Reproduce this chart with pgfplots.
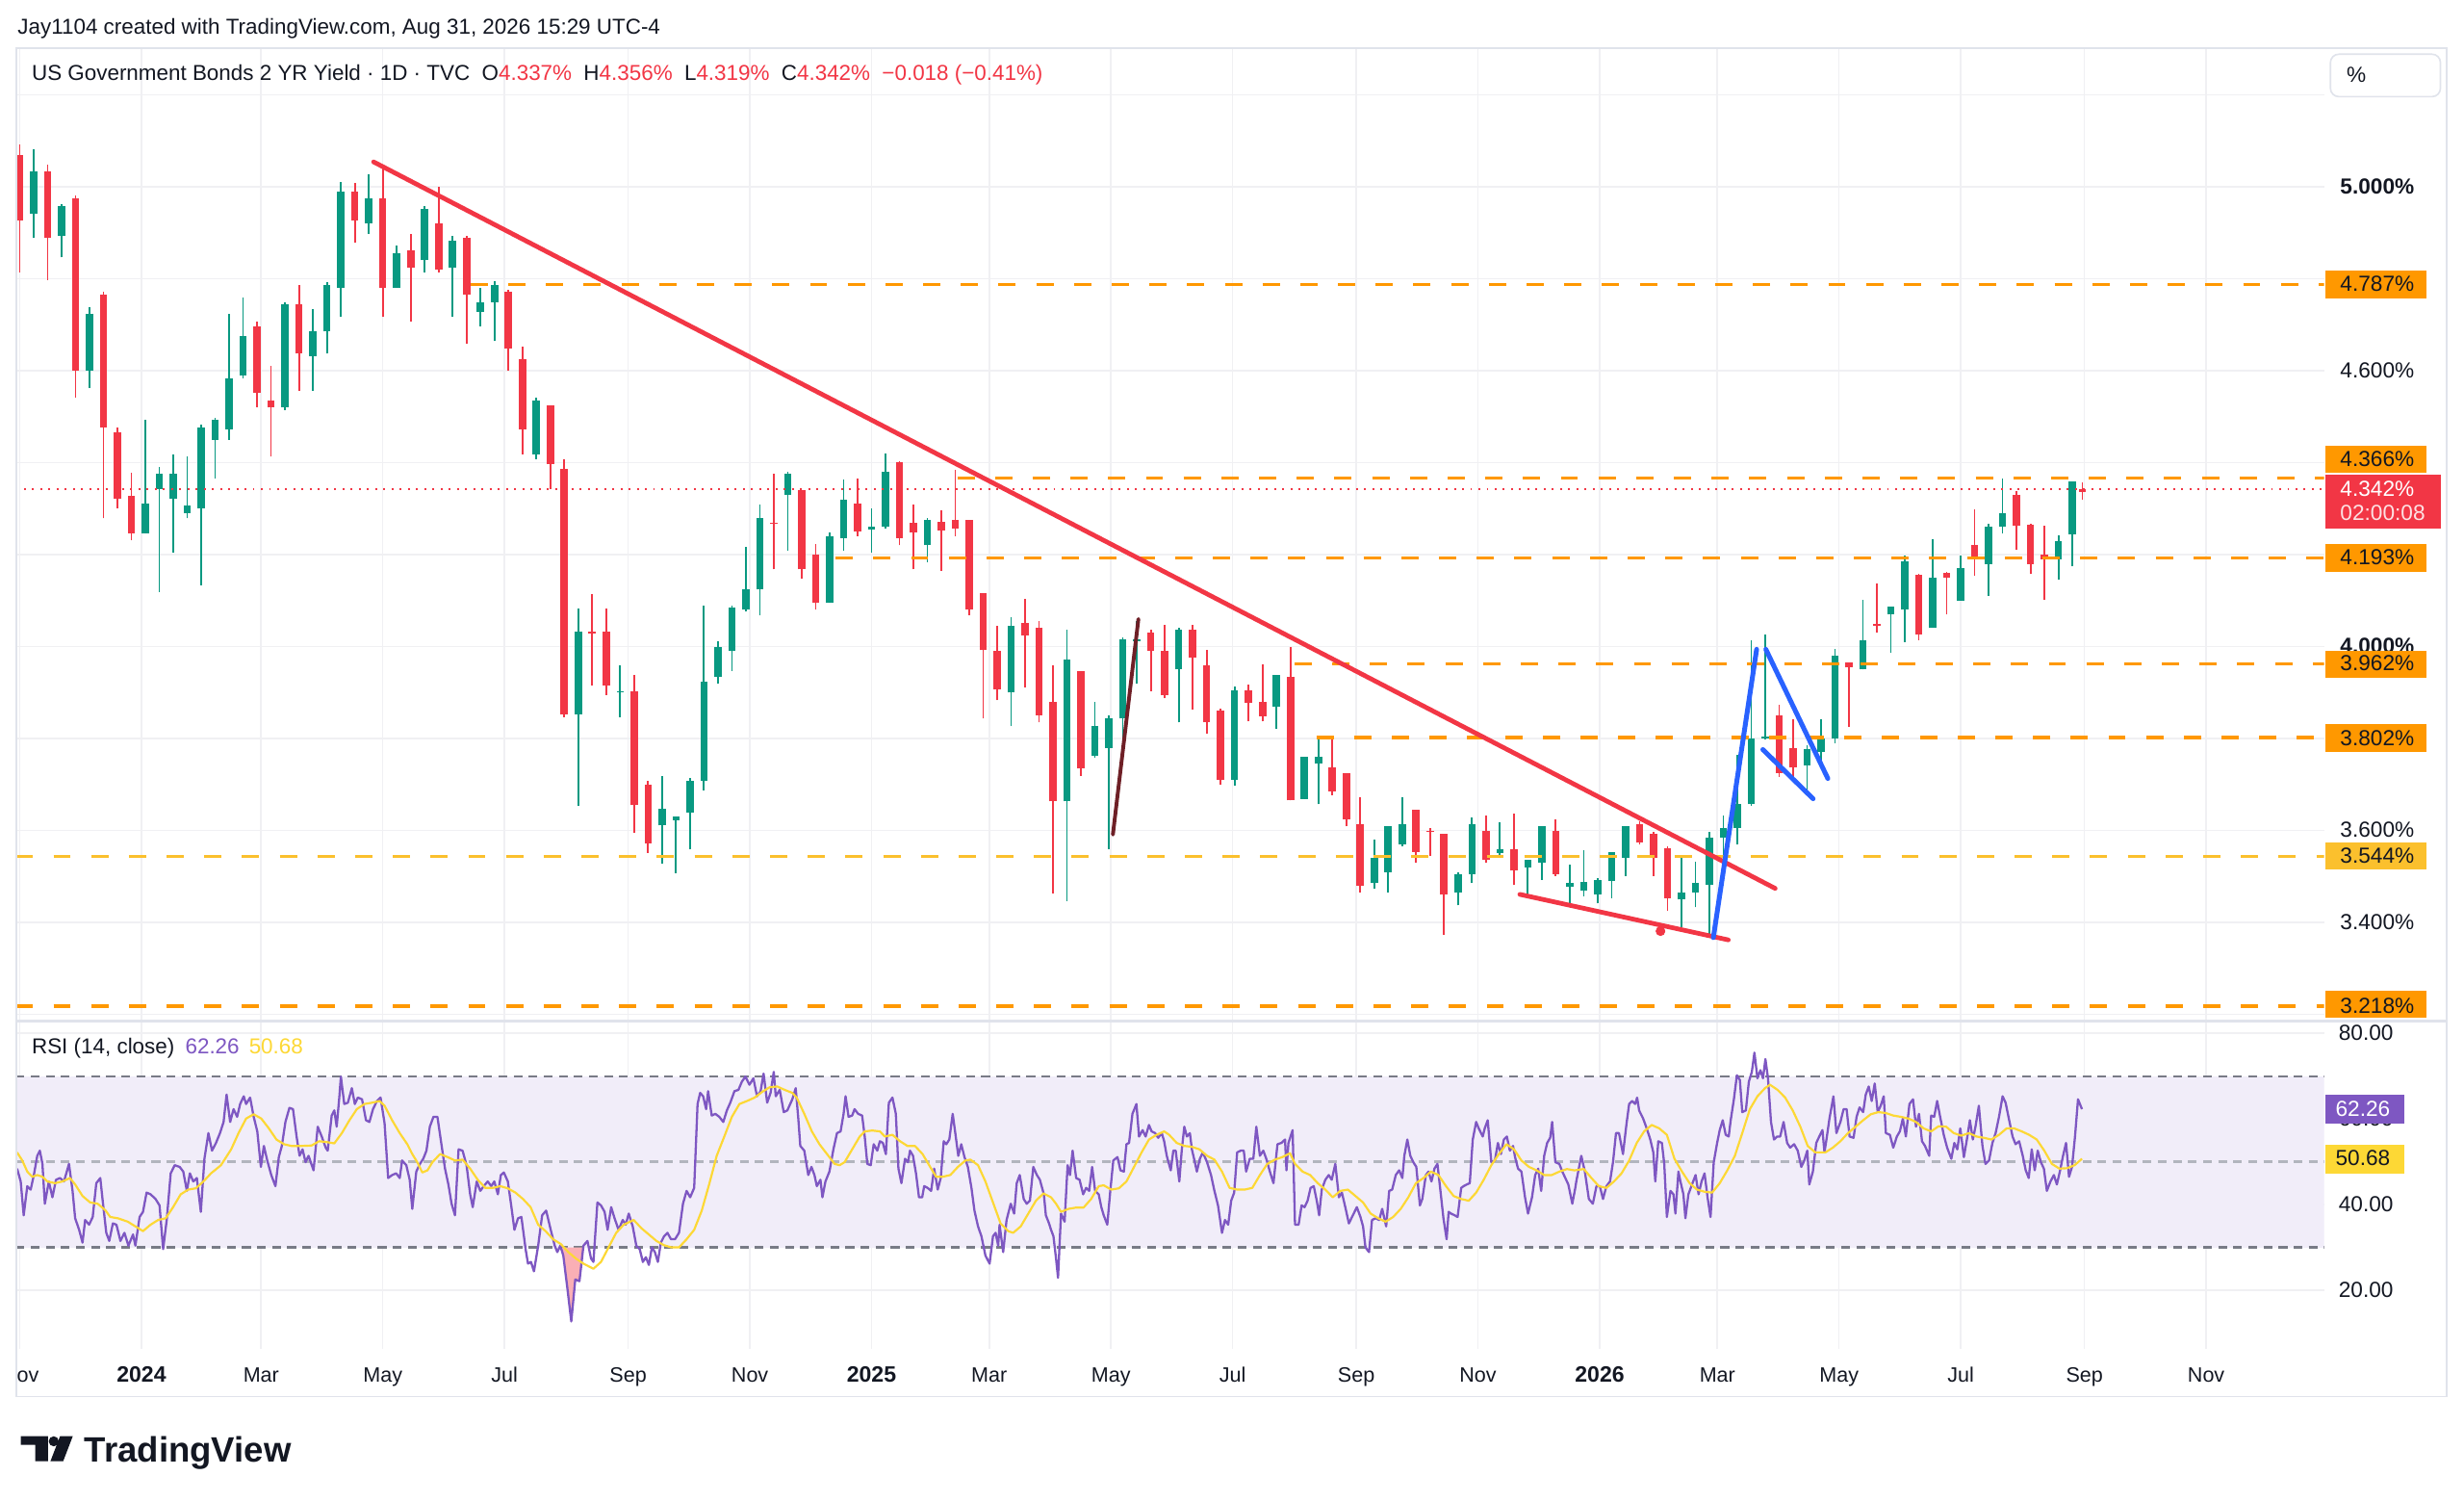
\documentclass[border=0pt]{standalone}
\usepackage{pgfplots}
\pgfplotsset{compat=1.18}
\usepackage{pgfplotstable}
\usepackage{fontspec}
\setmainfont{Liberation Sans}
\definecolor{tvgreen}{HTML}{089981}
\definecolor{tvred}{HTML}{F23645}
\definecolor{tvorange}{HTML}{FF9800}
\definecolor{tvyel}{HTML}{FBC02D}
\definecolor{tvtext}{HTML}{131722}
\definecolor{gridc}{HTML}{F0F0F3}
\definecolor{framec}{HTML}{E0E3EB}
\definecolor{rsipurple}{HTML}{7E57C2}
\definecolor{rsiyellow}{HTML}{FDD835}
\definecolor{rsiband}{HTML}{F1EDF9}
\definecolor{bandline}{HTML}{787B86}
\definecolor{midline}{HTML}{B2B5BE}
\definecolor{tvblue}{HTML}{2962FF}
\definecolor{darkline}{HTML}{6E1F26}
\newcommand\fsA{\fontsize{10.3pt}{12pt}\selectfont}
\newcommand\fsL{\fontsize{10.4pt}{12pt}\selectfont}
\newcommand\fsT{\fontsize{9.9pt}{12pt}\selectfont}
\newcommand\fsY{\fontsize{10.6pt}{12pt}\selectfont\bfseries}

\pgfplotsset{
  tvpane/.style={
    scale only axis, width=1101.75pt,
    xmin=-63.0, xmax=1094.2,
    axis line style={draw=none}, tick style={draw=none}, major tick length=0pt,
    xticklabel={\relax}, yticklabel={\relax},
    xtick={-61,0,60,121,182,244,305,366,425,486,547,609,670,731,790,851,912,974,1035},
    grid=major, major grid style={color=gridc, line width=0.75pt},
  },
  wick/.style={only marks, mark=*, mark size=0pt, mark options={draw=none, fill=none}, forget plot,
    /pgfplots/error bars/y dir=plus, /pgfplots/error bars/y explicit,
    /pgfplots/error bars/error mark=none,
    /pgfplots/error bars/error bar style={color=#1, line width=0.8pt}},
  body/.style={only marks, mark=*, mark size=0pt, mark options={draw=none, fill=none}, forget plot,
    /pgfplots/error bars/y dir=plus, /pgfplots/error bars/y explicit,
    /pgfplots/error bars/error mark=none,
    /pgfplots/error bars/error bar style={color=#1, line width=3.5pt}},
  lvl/.style={color=#1, line width=1.5pt, dash pattern=on 8.25pt off 9.75pt, forget plot},
}

% weekly candles: day (since 2024-01-01), open, high, low, close
\pgfplotstableread{
d O H L C
-54 4.942 5.081 4.888 5.033
-40 4.894 4.963 4.846 4.958
-26 4.600 4.739 4.562 4.723
2 4.247 4.493 4.247 4.311
9 4.343 4.391 4.119 4.375
16 4.322 4.418 4.204 4.375
23 4.290 4.413 4.279 4.306
30 4.301 4.482 4.133 4.477
37 4.450 4.498 4.365 4.493
44 4.472 4.723 4.450 4.584
51 4.589 4.760 4.584 4.675
72 4.520 4.749 4.514 4.744
86 4.632 4.733 4.557 4.685
93 4.685 4.792 4.637 4.787
100 4.781 5.011 4.717 4.990
114 4.920 5.027 4.897 4.974
128 4.781 4.872 4.781 4.856
142 4.840 4.958 4.813 4.952
156 4.824 4.894 4.717 4.883
170 4.728 4.781 4.696 4.749
177 4.749 4.794 4.664 4.787
198 4.418 4.541 4.407 4.536
219 3.852 4.082 3.654 4.033
240 3.900 3.959 3.847 3.903
261 3.611 3.719 3.527 3.647
268 3.623 3.631 3.507 3.631
275 3.639 3.715 3.559 3.707
282 3.707 4.089 3.687 3.923
289 3.935 4.012 3.919 4.000
296 3.990 4.088 3.947 4.084
303 4.080 4.216 4.076 4.124
310 4.124 4.308 4.068 4.280
324 4.330 4.380 4.208 4.376
345 4.096 4.248 4.096 4.240
352 4.236 4.364 4.208 4.320
366 4.255 4.300 4.204 4.260
373 4.260 4.420 4.256 4.380
394 4.220 4.280 4.184 4.276
436 3.900 4.064 3.827 4.044
464 3.663 4.036 3.447 3.971
478 3.763 3.879 3.759 3.827
485 3.779 3.850 3.559 3.843
492 3.843 4.020 3.771 4.016
499 4.012 4.056 3.919 4.016
520 3.950 4.040 3.835 4.036
548 3.710 3.914 3.697 3.905
569 3.870 3.938 3.821 3.938
583 3.669 3.761 3.669 3.761
590 3.745 3.801 3.657 3.761
618 3.485 3.581 3.473 3.541
625 3.509 3.609 3.465 3.609
632 3.570 3.673 3.565 3.613
660 3.465 3.509 3.437 3.505
667 3.505 3.629 3.485 3.613
681 3.550 3.617 3.541 3.560
695 3.520 3.537 3.457 3.537
702 3.530 3.609 3.493 3.609
716 3.477 3.525 3.437 3.485
723 3.469 3.557 3.457 3.489
730 3.461 3.497 3.441 3.493
737 3.490 3.553 3.453 3.553
744 3.541 3.609 3.501 3.609
772 3.450 3.545 3.389 3.465
779 3.465 3.533 3.433 3.485
786 3.481 3.597 3.369 3.585
793 3.585 3.633 3.493 3.605
800 3.605 3.765 3.569 3.657
807 3.657 4.014 3.653 3.800
814 3.800 4.026 3.797 3.805
835 3.741 3.785 3.677 3.777
842 3.770 3.841 3.741 3.800
849 3.800 3.994 3.790 3.980
863 3.950 4.102 3.950 4.014
877 4.070 4.086 3.986 4.086
884 4.080 4.198 4.010 4.185
898 4.040 4.234 4.040 4.150
912 4.100 4.198 4.100 4.170
926 4.180 4.266 4.110 4.260
933 4.260 4.366 4.246 4.290
961 4.190 4.242 4.146 4.230
968 4.245 4.360 4.174 4.360
}\greentab

\pgfplotstableread{
d O H L C
-61 5.070 5.091 4.813 4.926
-47 5.033 5.049 4.797 4.888
-33 4.974 4.982 4.541 4.600
-19 4.765 4.771 4.279 4.477
-12 4.466 4.477 4.301 4.322
-5 4.327 4.379 4.231 4.247
58 4.696 4.707 4.520 4.552
65 4.536 4.610 4.413 4.520
79 4.744 4.787 4.557 4.637
107 4.990 5.009 4.878 4.926
121 4.974 5.049 4.717 4.781
135 4.862 4.897 4.707 4.824
149 4.920 5.000 4.813 4.819
163 4.888 4.894 4.659 4.765
184 4.771 4.776 4.600 4.648
191 4.626 4.653 4.418 4.472
205 4.525 4.525 4.343 4.397
212 4.386 4.407 3.847 3.852
226 4.033 4.114 3.916 4.028
233 4.033 4.082 3.895 3.916
247 3.903 3.939 3.595 3.655
254 3.699 3.707 3.551 3.571
317 4.270 4.376 4.168 4.268
331 4.340 4.340 4.148 4.168
338 4.200 4.224 4.080 4.096
359 4.312 4.366 4.240 4.250
380 4.400 4.404 4.220 4.236
387 4.270 4.308 4.168 4.248
401 4.272 4.296 4.164 4.252
408 4.276 4.384 4.240 4.256
415 4.276 4.276 4.068 4.080
422 4.116 4.116 3.843 3.992
429 3.990 4.044 3.883 3.907
443 4.052 4.104 3.911 4.024
450 4.040 4.056 3.835 3.851
457 3.880 3.959 3.463 3.663
471 3.947 3.947 3.719 3.735
506 4.030 4.036 3.903 3.990
513 3.990 4.048 3.887 3.895
527 4.036 4.048 3.863 3.975
534 3.960 3.992 3.811 3.835
541 3.860 3.865 3.700 3.710
555 3.905 3.918 3.837 3.877
562 3.880 3.962 3.837 3.849
576 3.934 3.998 3.665 3.665
597 3.737 3.805 3.677 3.685
604 3.725 3.725 3.609 3.625
611 3.613 3.673 3.465 3.480
639 3.645 3.645 3.529 3.553
646 3.600 3.605 3.545 3.597
653 3.593 3.593 3.373 3.460
674 3.600 3.633 3.529 3.537
688 3.560 3.637 3.481 3.513
709 3.600 3.625 3.501 3.505
751 3.613 3.621 3.569 3.573
758 3.593 3.597 3.501 3.541
765 3.561 3.565 3.425 3.453
821 3.850 3.873 3.717 3.725
828 3.780 3.841 3.713 3.737
856 3.965 3.966 3.825 3.954
870 4.050 4.138 4.030 4.046
891 4.155 4.158 4.014 4.026
905 4.160 4.162 4.070 4.150
919 4.220 4.298 4.154 4.190
940 4.330 4.338 4.210 4.262
947 4.265 4.266 4.158 4.180
954 4.200 4.262 4.102 4.190
973 4.337 4.356 4.319 4.342
}\redtab

\begin{document}
\begin{tikzpicture}
\useasboundingbox (0,0) rectangle (1176pt,716.25pt);
\fill[white] (0,0) rectangle (1176pt,716.25pt);

% ---------------- price pane ----------------
\begin{axis}[tvpane, at={(7.5pt,229.5pt)}, anchor=south west,
  height=464.25pt, ymin=3.1874, ymax=5.3036,
  ytick={3.2,3.4,3.6,3.8,4.0,4.2,4.4,4.6,4.8,5.0,5.2}]
% candles
\addplot[wick=tvgreen] table[x=d, y=L, y error plus expr=\thisrow{H}-\thisrow{L}] {\greentab};
\addplot[body=tvgreen] table[x=d, y=O, y error plus expr=\thisrow{C}-\thisrow{O}] {\greentab};
\addplot[wick=tvred] table[x=d, y=L, y error plus expr=\thisrow{H}-\thisrow{L}] {\redtab};
\addplot[body=tvred] table[x=d, y=C, y error plus expr=\thisrow{O}-\thisrow{C}] {\redtab};
% horizontal levels
\addplot[lvl=tvorange] coordinates {(165,4.787) (1094.2,4.787)};
\addplot[lvl=tvorange] coordinates {(409,4.366) (1094.2,4.366)};
\addplot[lvl=tvorange] coordinates {(348,4.193) (1094.2,4.193)};
\addplot[lvl=tvorange] coordinates {(578,3.962) (1094.2,3.962)};
\addplot[lvl=tvorange] coordinates {(589,3.802) (1094.2,3.802)};
\addplot[lvl=tvyel] coordinates {(-63,3.544) (1094.2,3.544)};
\addplot[lvl=tvorange] coordinates {(-63,3.218) (1094.2,3.218)};
\addplot[tvred, line width=0.8pt, dash pattern=on 0.9pt off 3pt, forget plot] coordinates {(-63,4.342) (1094.2,4.342)};
% drawings
\addplot[tvred, line width=2.2pt, line cap=round, forget plot] coordinates {(116.4,5.054) (819.0,3.474)};
\addplot[tvred, line width=2.2pt, line cap=round, forget plot] coordinates {(691.0,3.461) (795.5,3.362)};
\addplot[only marks, mark=*, mark size=2.1pt, tvred, forget plot] coordinates {(761.5,3.381)};
\addplot[darkline, line width=1.8pt, line cap=round, forget plot] coordinates {(487.0,3.591) (499.8,4.060)};
\addplot[tvblue, line width=2.3pt, line cap=round, forget plot] coordinates {(788.0,3.367) (809.7,3.994)};
\addplot[tvblue, line width=2.3pt, line cap=round, forget plot] coordinates {(814.3,3.994) (845.4,3.713)};
\addplot[tvblue, line width=2.3pt, line cap=round, forget plot] coordinates {(812.8,3.776) (838.0,3.669)};
\end{axis}

% ---------------- RSI pane ----------------
\begin{axis}[tvpane, at={(7.5pt,72.75pt)}, anchor=south west,
  height=156pt, ymin=6.32, ymax=82.72, ytick={20,40,60,80}]
\addplot[fill=rsiband, draw=none, forget plot] coordinates {(-63,30) (1094.2,30) (1094.2,70) (-63,70)};
\addplot[bandline, line width=1.1pt, dash pattern=on 4.2pt off 3pt, forget plot] coordinates {(-63,70) (1094.2,70)};
\addplot[bandline, line width=1.1pt, dash pattern=on 4.2pt off 3pt, forget plot] coordinates {(-63,30) (1094.2,30)};
\addplot[midline, line width=1.1pt, dash pattern=on 4.2pt off 3pt, forget plot] coordinates {(-63,50) (1094.2,50)};
\addplot[fill=tvred!40, draw=none, forget plot] coordinates {(210.2,30) (211.5,28.1) (213.5,20.6) (215.5,12.7) (217.5,22.5) (219.6,22.1) (221.4,30)};
% RSI line
\addplot[rsipurple, line width=1.05pt, line join=round, forget plot] coordinates {
(-62.3,48.4) (-60.5,45.4) (-59.0,37.5) (-57.2,44.3) (-55.5,43.5) (-53.9,46.9) (-52.2,51.4) (-50.9,52.6) (-49.6,49.5) (-48.4,40.2) (-46.4,45.4) (-44.6,41.7) (-42.8,45.8) (-40.8,46.2) (-38.8,45.4) (-36.3,49.5) (-34.5,43.2) (-33.2,36.8) (-31.2,34.1) (-29.5,31.1) (-28.2,36.4) (-26.2,35.3) (-24.4,37.1) (-22.6,45.0) (-20.6,46.2) (-19.4,40.9) (-17.6,33.4) (-16.1,31.5) (-14.3,35.6) (-12.5,35.3) (-10.5,31.5) (-8.5,33.4) (-6.5,30.4) (-4.2,33.0) (-3.0,30.4) (-0.9,37.1) (0.8,38.3) (2.6,42.8) (4.6,42.4) (7.1,41.3) (9.1,39.8) (10.9,29.6) (12.7,36.4) (14.7,47.3) (16.7,49.2) (19.2,48.8) (21.0,47.7) (22.8,43.2) (24.3,47.3) (26.0,45.4) (27.8,46.2) (29.8,38.3) (31.6,50.7) (33.6,56.7) (35.4,52.6) (37.4,54.4) (39.4,56.7) (41.2,59.3) (42.7,65.7) (44.5,59.3) (46.2,62.3) (48.0,60.5) (49.5,63.5) (51.3,65.3) (52.5,63.5) (54.5,65.0) (56.3,60.5) (58.1,57.1) (59.9,48.8) (61.4,53.7) (63.1,50.3) (65.1,46.9) (67.2,44.3) (68.9,51.1) (70.4,53.7) (72.2,59.3) (74.2,62.6) (76.0,62.3) (77.8,55.9) (79.3,51.4) (80.8,52.9) (82.3,49.9) (83.8,51.4) (86.3,48.0) (88.4,58.2) (90.4,55.9) (92.4,53.3) (93.4,52.6) (95.4,60.8) (96.7,62.0) (97.9,58.2) (99.2,65.0) (100.0,69.9) (101.7,63.5) (103.5,63.8) (105.5,67.2) (107.0,63.5) (108.5,65.0) (110.6,64.6) (112.6,59.7) (114.3,59.3) (116.1,62.3) (118.1,64.2) (119.9,65.0) (121.9,59.0) (123.7,46.2) (125.7,46.9) (127.7,47.3) (129.5,46.2) (130.7,50.3) (132.8,49.2) (134.5,45.8) (135.8,39.0) (137.8,47.7) (139.6,49.5) (141.3,50.7) (142.9,52.6) (144.6,58.2) (146.4,60.5) (148.4,60.5) (150.4,54.1) (152.2,48.4) (153.9,44.7) (155.5,40.2) (157.2,37.5) (159.0,52.9) (161.0,52.6) (163.0,49.2) (164.8,42.4) (166.1,39.4) (168.1,45.4) (169.9,43.2) (171.6,44.3) (173.6,45.4) (175.4,44.3) (176.9,45.4) (178.7,42.4) (180.2,46.9) (181.7,47.5) (183.7,45.4) (185.5,39.4) (187.0,34.1) (188.8,36.8) (190.5,37.1) (192.6,29.6) (193.8,26.2) (195.3,26.6) (196.8,24.4) (198.9,30.4) (200.9,37.5) (202.9,38.6) (205.2,34.1) (207.2,30.4) (208.5,28.9) (210.0,30.4) (211.5,28.1) (213.5,20.6) (215.5,12.7) (217.5,22.5) (219.6,22.1) (221.6,30.4) (223.6,31.5) (225.4,27.4) (226.6,26.6) (228.6,40.5) (230.4,39.8) (232.2,38.3) (233.7,34.1) (235.5,39.4) (237.2,36.8) (239.2,34.1) (241.3,36.4) (242.8,35.3) (244.3,37.9) (246.3,34.9) (248.1,30.4) (249.8,29.6) (251.4,26.6) (252.9,27.7) (254.4,25.9) (255.9,30.0) (257.4,28.9) (258.9,26.6) (260.4,31.1) (262.0,32.6) (263.7,33.4) (265.5,31.9) (267.5,31.9) (269.5,33.4) (271.5,40.2) (273.3,43.2) (275.1,41.7) (277.1,43.9) (278.8,63.5) (280.1,66.1) (281.6,65.3) (283.1,62.3) (284.1,66.5) (285.9,60.8) (287.7,61.2) (289.7,60.5) (291.7,59.3) (293.5,62.0) (295.2,63.8) (297.3,66.5) (299.3,66.8) (301.0,68.7) (302.8,69.9) (304.8,68.0) (306.8,69.5) (308.6,65.3) (310.4,66.5) (311.9,70.6) (313.7,63.8) (315.4,66.1) (317.0,71.0) (318.0,65.3) (320.0,66.8) (322.0,61.6) (323.8,62.0) (326.3,64.6) (328.0,67.2)
(329.3,60.1) (330.3,53.7) (332.3,52.6) (334.3,46.9) (335.9,48.8) (337.4,46.9) (338.6,44.3) (340.4,45.8) (341.4,41.7) (342.9,45.4) (344.9,47.7) (346.9,52.9) (348.7,56.7) (350.5,57.1) (352.0,61.2) (353.0,65.3) (354.5,60.5) (356.3,60.8) (357.5,62.3) (359.3,61.2) (361.3,60.8) (362.6,55.9) (363.9,49.5) (365.6,49.2) (367.1,54.1) (368.9,52.6) (370.2,54.8) (371.7,54.4) (373.2,51.8) (374.7,63.8) (376.5,65.0) (378.2,61.2) (379.5,48.4) (381.0,45.0) (382.8,50.7) (384.3,49.9) (385.3,52.6) (386.8,51.4) (388.3,47.3) (389.8,41.7) (391.4,41.7) (392.4,44.3) (394.1,43.9) (395.9,43.2) (397.4,48.4) (399.2,43.5) (400.7,46.2) (402.2,54.8) (403.5,54.1) (405.0,55.2) (406.7,61.2) (408.0,56.7) (409.5,51.4) (411.0,54.1) (412.6,51.1) (414.3,48.8) (416.1,43.9) (417.6,38.6) (419.4,34.9) (421.1,32.6) (423.1,28.1) (425.2,26.2) (426.9,32.6) (428.2,33.4) (429.5,30.4) (430.2,35.3) (432.0,28.9) (433.7,36.4) (435.8,40.2) (437.5,37.9) (438.8,45.0) (440.3,46.9) (442.3,41.3) (443.8,40.2) (445.4,40.9) (447.1,48.8) (448.9,46.9) (450.4,45.8) (452.4,42.4) (453.4,37.5) (455.0,35.6) (456.0,34.1) (457.2,32.6) (458.5,27.4) (459.5,22.9) (461.0,37.9) (462.8,36.0) (464.3,49.2) (465.5,46.9) (466.8,52.6) (468.6,46.2) (470.3,45.8) (472.1,42.4) (473.6,43.9) (475.1,43.2) (476.6,48.8) (478.1,43.2) (479.9,42.4) (481.2,39.4) (482.4,37.5) (484.2,35.3) (485.7,43.2) (487.2,50.3) (489.3,51.1) (490.8,48.0) (492.5,47.7) (493.8,54.1) (495.1,54.4) (496.8,61.2) (498.8,63.5) (500.1,55.9) (501.9,57.4) (503.4,55.9) (505.1,58.6) (506.4,57.1) (508.2,56.7) (509.7,55.6) (511.5,56.7) (512.7,54.8) (514.0,51.4) (516.0,48.0) (517.3,52.6) (518.5,52.6) (520.3,45.4) (521.5,52.6) (522.8,58.2) (524.1,55.9) (525.6,56.7) (526.6,52.9) (527.9,50.3) (529.1,47.7) (530.6,50.7) (532.1,52.2) (534.2,49.9) (536.2,46.9) (537.9,43.2) (539.7,39.8) (541.7,33.4) (543.2,36.4) (544.8,35.3) (546.3,40.9) (547.8,42.8) (549.3,52.2) (551.1,52.6) (552.6,52.6) (553.8,47.7) (555.6,50.7) (557.4,50.7) (558.9,58.2) (560.7,51.4) (562.4,52.6) (563.9,50.7) (565.7,47.7) (567.5,45.0) (569.5,54.1) (571.5,54.4) (573.3,55.2) (574.0,48.0) (575.0,54.4) (577.1,57.4) (578.3,35.3) (580.1,35.3) (581.6,39.8) (583.1,39.4) (584.6,40.9) (586.1,43.9) (587.7,44.3) (589.2,40.9) (590.4,37.5) (591.7,43.5) (593.5,45.8) (595.2,46.9) (596.7,45.8) (598.5,49.5) (600.3,41.7) (601.8,42.8) (603.5,39.4) (605.3,35.6) (607.3,37.5) (609.3,39.4) (611.1,37.1) (612.4,34.9) (613.6,30.0) (615.4,28.9) (616.9,36.4) (618.7,36.8) (620.5,36.4) (622.0,39.0) (624.0,34.9) (625.5,43.2) (627.0,43.5) (628.8,46.9) (630.5,48.0) (632.1,46.2) (633.1,51.4) (634.6,55.2) (636.1,51.4) (637.6,49.9) (639.1,48.8) (640.9,39.8) (642.1,41.3) (643.9,46.9) (645.2,47.7) (646.7,45.4) (648.2,48.4) (649.7,49.5) (651.2,43.2) (652.7,36.8) (654.3,31.9) (655.3,38.3) (656.5,37.9) (658.3,37.5) (659.8,37.1) (661.6,43.9) (662.8,44.3) (664.4,44.7) (665.9,45.0) (667.4,55.2) (669.1,59.3) (670.4,57.8) (672.4,55.9) (673.4,57.8) (674.9,59.7) (676.7,49.9) (678.5,50.3) (680.0,54.4) (681.5,51.8) (683.0,55.2) (684.5,55.9) (686.0,52.6) (687.6,53.7) (688.6,51.1) (690.1,48.4) (691.8,47.7) (693.6,41.7) (695.1,37.9) (697.1,41.7) (698.7,46.9) (700.2,48.4) (701.7,43.2) (703.2,51.4) (704.7,54.4) (706.2,55.6) (707.2,59.3) (708.8,49.9) (710.8,49.5) (712.3,47.7) (713.8,46.2) (715.3,44.7) (717.3,40.2) (718.8,43.9)
(719.3,45.4) (721.8,51.4) (723.6,47.7) (725.6,41.3) (727.6,40.2) (729.4,44.3) (731.1,44.3) (732.7,41.3) (734.4,44.3) (736.2,45.4) (737.7,49.9) (739.2,56.7) (740.7,56.7) (742.7,51.8) (744.5,59.0) (745.8,63.5) (747.3,64.2) (748.8,63.5) (749.8,65.0) (750.8,62.0) (752.8,60.1) (754.6,57.8) (756.4,55.2) (757.9,52.2) (758.9,45.4) (760.4,54.8) (762.2,54.4) (763.4,49.5) (764.7,37.1) (766.5,43.2) (768.0,42.4) (769.0,37.9) (770.5,47.7) (771.5,45.4) (773.0,42.4) (774.0,36.8) (775.5,42.4) (777.3,44.7) (779.1,46.9) (780.6,42.4) (782.1,45.4) (783.6,47.3) (785.1,41.7) (786.6,37.1) (788.2,49.9) (789.9,54.4) (791.2,57.4) (792.7,59.7) (794.2,56.3) (795.7,55.9) (796.7,59.7) (798.3,64.6) (799.8,70.2) (801.3,69.1) (802.5,61.6) (804.3,62.0) (805.8,68.7) (807.3,71.0) (808.6,75.5) (810.1,69.5) (811.6,71.4) (812.9,69.5) (814.1,74.0) (815.4,69.5) (816.9,59.3) (818.4,55.2) (820.0,55.9) (821.5,55.9) (823.2,59.3) (825.0,54.4) (826.5,53.3) (828.5,54.1) (830.3,52.6) (832.1,48.8) (833.6,50.3) (835.1,52.6) (836.1,44.7) (837.9,47.7) (839.6,54.4) (841.1,55.9) (842.7,57.4) (843.7,52.2) (844.7,55.2) (846.2,60.1) (848.2,65.3) (849.7,56.7) (851.7,59.3) (853.3,62.3) (854.8,62.3) (856.3,55.9) (858.3,55.6) (859.8,60.5) (861.3,62.7) (863.1,61.6) (864.4,65.7) (865.9,67.6) (867.4,64.2) (868.9,68.3) (870.4,61.6) (871.9,63.1) (873.4,65.3) (874.5,56.7) (876.5,56.3) (878.2,53.3) (880.0,55.9) (881.5,57.1) (883.0,60.1) (884.5,55.9) (886.3,63.5) (888.1,64.6) (889.6,58.2) (891.1,61.2) (892.6,54.8) (894.1,53.7) (896.2,51.4) (897.2,60.8) (898.7,60.5) (900.2,64.2) (901.7,60.5) (903.5,56.3) (905.2,53.3) (907.3,50.7) (908.8,54.4) (910.3,52.9) (911.8,57.8) (913.6,51.1) (915.1,55.2) (916.6,59.7) (918.1,55.2) (919.4,58.2) (921.1,63.1) (922.9,53.7) (924.4,49.5) (926.2,50.3) (927.9,54.4) (929.5,56.7) (931.2,60.5) (933.0,65.3) (934.5,63.8) (936.3,59.7) (938.0,55.9) (939.5,54.1) (941.3,54.8) (943.1,51.4) (944.6,48.0) (946.1,46.2) (947.6,52.9) (949.1,48.0) (950.6,52.6) (952.2,49.9) (953.7,48.4) (955.2,43.2) (957.0,45.4) (958.7,46.9) (960.2,44.7) (961.7,47.7) (963.3,51.4) (964.8,54.4) (966.3,46.5) (967.8,48.8) (969.3,55.9) (970.8,64.6) (972.8,62.3)
};
% RSI-based MA
\addplot[rsiyellow, line width=1.0pt, line join=round, forget plot] coordinates {
(-62.3,52.2) (-59.7,50.3) (-57.2,47.7) (-54.7,46.5) (-52.2,46.9) (-49.6,46.5) (-47.1,45.4) (-43.3,45.0) (-39.6,45.4) (-35.8,46.2) (-33.2,44.7) (-29.5,42.0) (-25.7,40.5) (-21.9,40.2) (-18.1,38.7) (-15.6,37.1) (-11.8,36.8) (-6.8,36.0) (-3.0,34.9) (0.8,33.8) (4.6,35.3) (8.4,36.4) (12.2,36.8) (15.9,39.4) (19.7,42.4) (23.5,43.5) (27.3,43.8) (31.1,45.4) (34.9,47.3) (39.9,49.2) (45.0,52.9) (48.7,56.7) (52.5,60.1) (56.3,61.1) (60.1,60.1) (63.9,57.8) (67.7,55.2) (71.5,54.1) (75.2,53.7) (80.3,53.7) (85.3,53.8) (89.1,54.8) (92.9,54.6) (96.7,54.3) (100.5,56.7) (104.3,59.7) (108.0,62.3) (111.8,63.5) (115.6,63.8) (119.4,64.2) (121.9,63.1) (125.7,59.7) (129.5,56.7) (133.3,54.1) (135.8,51.8) (138.3,49.9) (140.8,47.5) (143.4,48.0) (145.9,49.9) (149.7,51.8) (153.5,51.1) (157.2,50.3) (161.0,50.5) (164.8,48.4) (168.6,45.8) (172.4,43.9) (176.2,43.9) (179.9,44.3) (183.7,43.8) (187.5,42.8) (191.3,41.3) (195.1,39.4) (198.9,35.3) (202.6,33.8) (206.4,31.9) (210.2,30.8) (214.0,28.9) (217.8,27.4) (221.6,26.2) (226.6,25.0) (230.4,26.6) (234.2,30.0) (238.0,33.4) (241.8,35.3) (246.8,36.4) (250.6,34.5) (254.4,33.0) (258.2,31.5) (262.0,30.5) (265.7,30.0) (269.5,30.0) (273.3,31.9) (277.1,34.1) (280.9,38.6) (284.6,44.7) (288.4,51.4) (292.2,55.9) (296.0,60.5) (299.8,63.5) (303.6,64.2) (307.4,65.0) (311.1,66.3) (314.9,67.4) (318.7,67.6) (322.5,66.8) (326.3,66.1)
(328.5,65.0) (332.3,61.2) (336.1,57.1) (339.9,54.1) (343.7,51.8) (347.5,49.5) (350.0,49.2) (352.5,49.9) (356.3,52.9) (360.1,55.9) (362.6,57.1) (366.4,57.3) (370.2,57.1) (372.7,55.9) (376.5,56.3) (380.3,54.8) (384.0,53.7) (387.8,53.7) (391.6,51.8) (395.4,48.8) (398.4,46.5) (401.7,46.5) (405.5,46.9) (409.3,48.8) (413.1,50.3) (415.6,50.5) (419.4,49.2) (423.1,45.4) (426.9,40.5) (430.7,35.6) (434.5,33.8) (437.0,33.4) (440.8,34.9) (444.6,37.9) (448.4,40.9) (452.2,42.6) (456.0,41.7) (458.5,40.2) (461.0,38.3) (464.8,39.0) (468.6,39.3) (472.3,39.3) (476.1,41.3) (479.9,44.3) (482.4,44.5) (486.2,43.5) (490.0,43.8) (493.8,45.4) (497.6,48.8) (501.4,52.2) (505.1,55.2) (508.9,56.3) (512.7,57.1) (515.2,56.3) (519.0,54.4) (522.8,53.7) (526.6,53.5) (530.4,52.9) (534.2,51.4) (537.9,50.5) (541.7,47.7) (545.5,43.9) (549.3,43.5) (553.1,43.5) (556.9,43.9) (560.7,46.9) (564.4,49.5) (568.2,50.5) (572.0,51.1) (575.8,52.0) (578.3,49.5) (582.1,47.7) (585.9,46.9) (589.7,45.0) (593.5,43.5) (597.2,41.7) (601.0,43.2) (604.8,43.5) (608.6,42.0) (612.4,40.5) (616.2,37.9) (620.0,36.8) (623.7,36.0) (627.5,37.1) (631.3,39.0) (635.1,41.7) (638.9,45.0) (642.7,46.2) (646.4,47.7) (650.2,46.9) (654.0,44.3) (657.8,42.0) (661.6,41.3) (665.4,40.9) (669.1,42.8) (672.9,45.8) (676.7,49.2) (680.5,51.8) (684.3,54.1) (688.1,52.9) (691.8,50.3) (695.6,48.8) (699.4,48.0) (703.2,46.9) (707.0,46.9) (710.8,47.7) (714.6,48.3) (718.3,48.0)
(723.1,48.3) (726.9,46.2) (730.6,44.3) (734.4,43.9) (738.2,45.4) (742.0,47.3) (745.8,50.3) (749.6,54.4) (753.3,57.1) (757.1,58.6) (760.9,57.8) (764.7,56.3) (768.5,50.7) (772.3,47.7) (776.1,45.0) (779.8,43.5) (783.6,43.0) (787.4,42.8) (791.2,45.0) (795.0,48.0) (798.8,51.4) (802.5,56.7) (806.3,62.3) (810.1,65.3) (813.9,67.2) (816.4,68.0) (820.2,66.8) (824.0,65.0) (827.8,62.0) (831.6,58.2) (835.3,53.7) (839.1,52.2) (844.2,52.2) (847.9,53.3) (851.7,54.8) (855.5,56.7) (859.3,58.2) (863.1,59.7) (866.9,61.1) (870.7,61.6) (874.4,61.4) (878.2,60.8) (882.0,60.5) (885.8,60.1) (889.6,59.3) (893.4,57.8) (897.2,57.1) (900.9,58.3) (904.7,58.2) (908.5,56.7) (912.3,56.1) (916.1,56.7) (919.9,55.9) (923.6,55.6) (927.4,55.2) (931.2,56.3) (935.0,57.8) (938.8,57.8) (942.6,57.1) (946.3,56.3) (950.1,55.2) (953.9,52.6) (957.7,49.5) (961.5,48.4) (965.3,48.5) (969.1,49.2) (972.8,50.7)
};
\end{axis}

% ---------------- decorations (px units, y downward) ----------------
\begin{scope}[yshift=716.25pt, x=0.75pt, y=-0.75pt]
\draw[framec, line width=0.75pt] (10.5,30.5) rectangle (1557,888.5);
\draw[framec, line width=1.5pt] (10.5,649.5) -- (1557,649.5);
% header and legends
\node[anchor=base west, inner sep=0, font=\fsA, text=tvtext] at (11,21.5) {Jay1104 created with TradingView.com, Aug 31, 2026 15:29 UTC-4};
\node[anchor=base west, inner sep=0, font=\fsA, text=tvtext] at (20,51) {US Government Bonds 2 YR Yield · 1D · TVC\hspace{0.55em}O\textcolor{tvred}{4.337\%}\hspace{0.55em}H\textcolor{tvred}{4.356\%}\hspace{0.55em}L\textcolor{tvred}{4.319\%}\hspace{0.55em}C\textcolor{tvred}{4.342\%}\hspace{0.55em}\textcolor{tvred}{−0.018 (−0.41\%)}};
\node[anchor=base west, inner sep=0, font=\fsA, text=tvtext] at (20,670.5) {RSI (14, close)\hspace{0.5em}\textcolor{rsipurple}{62.26}\hspace{0.45em}\textcolor{rsiyellow}{50.68}};
% % button
\draw[framec, line width=0.75pt, rounded corners=4pt] (1483,34.5) rectangle (1553,61.5);
\node[anchor=base west, inner sep=0, font=\fsL, text=tvtext] at (1493,52.5) {\%};
% price scale labels
\begin{scope}[every node/.style={anchor=base west, inner sep=0, font=\fsL, text=tvtext}]
\node at (1489,123.3) {\bfseries 5.000\%};
\node at (1489,240.3) {4.600\%};
\node at (1489,415.8) {\bfseries 4.000\%};
\node at (1489,532.8) {3.600\%};
\node at (1489,591.3) {3.400\%};
\fill[tvorange] (1480,172.3) rectangle (1544,189.9);
\node at (1489,185.6) {4.787\%};
\fill[tvorange] (1480,283.6) rectangle (1544,300.7);
\node at (1489,296.7) {4.366\%};
\fill[tvred] (1480,302.1) rectangle (1553,336.0);
\node[text=white] at (1489,316.0) {4.342\%};
\node[text=white!85!tvred] at (1489,331.0) {02:00:08};
\fill[tvorange] (1480,346.1) rectangle (1544,363.7);
\node at (1489,359.4) {4.193\%};
\fill[tvorange] (1480,413.8) rectangle (1544,431.0);
\node at (1489,426.9) {3.962\%};
\fill[tvorange] (1480,460.8) rectangle (1544,478.4);
\node at (1489,474.1) {3.802\%};
\fill[tvyel] (1480,536.2) rectangle (1544,553.4);
\node at (1489,549.3) {3.544\%};
\fill[tvorange] (1480,630.3) rectangle (1544,647.5);
\node at (1489,644.4) {3.218\%};
% RSI scale
\node at (1488,661.9) {80.00};
\node at (1488,716.3) {60.00};
\node at (1488,770.8) {40.00};
\node at (1488,825.3) {20.00};
\fill[rsipurple] (1480,696.5) rectangle (1530,715.0);
\node[text=white] at (1486,710.2) {62.26};
\fill[rsiyellow] (1480,728.0) rectangle (1530,746.5);
\node at (1486,741.7) {50.68};
\end{scope}
% time axis
\begin{scope}[every node/.style={anchor=base, inner sep=0, font=\fsT, text=tvtext}]
\node[anchor=base west] at (10.6,879) {ov};
\node[font=\fsY] at (90.0,879) {2024};
\node at (166.2,879) {Mar};
\node at (243.6,879) {May};
\node at (321.0,879) {Jul};
\node at (399.7,879) {Sep};
\node at (477.2,879) {Nov};
\node[font=\fsY] at (554.6,879) {2025};
\node at (629.5,879) {Mar};
\node at (707.0,879) {May};
\node at (784.4,879) {Jul};
\node at (863.1,879) {Sep};
\node at (940.5,879) {Nov};
\node[font=\fsY] at (1018.0,879) {2026};
\node at (1092.9,879) {Mar};
\node at (1170.3,879) {May};
\node at (1247.8,879) {Jul};
\node at (1326.5,879) {Sep};
\node at (1403.9,879) {Nov};
\end{scope}
% TradingView logo
\fill[tvtext] (13.3,913.7) -- (30.6,913.7) -- (30.6,929.6) -- (22.4,929.6) -- (22.4,919.2) -- (13.3,919.2) -- cycle;
\fill[tvtext] (34.2,916.9) circle (3.2);
\fill[tvtext] (38.2,913.7) -- (46.3,913.7) -- (40.2,929.6) -- (32.1,929.6) -- cycle;
\node[anchor=base west, inner sep=0, font=\fontsize{16.8pt}{18pt}\selectfont\bfseries, text=tvtext] at (53.5,930) {TradingView};
\end{scope}
\end{tikzpicture}
\end{document}
